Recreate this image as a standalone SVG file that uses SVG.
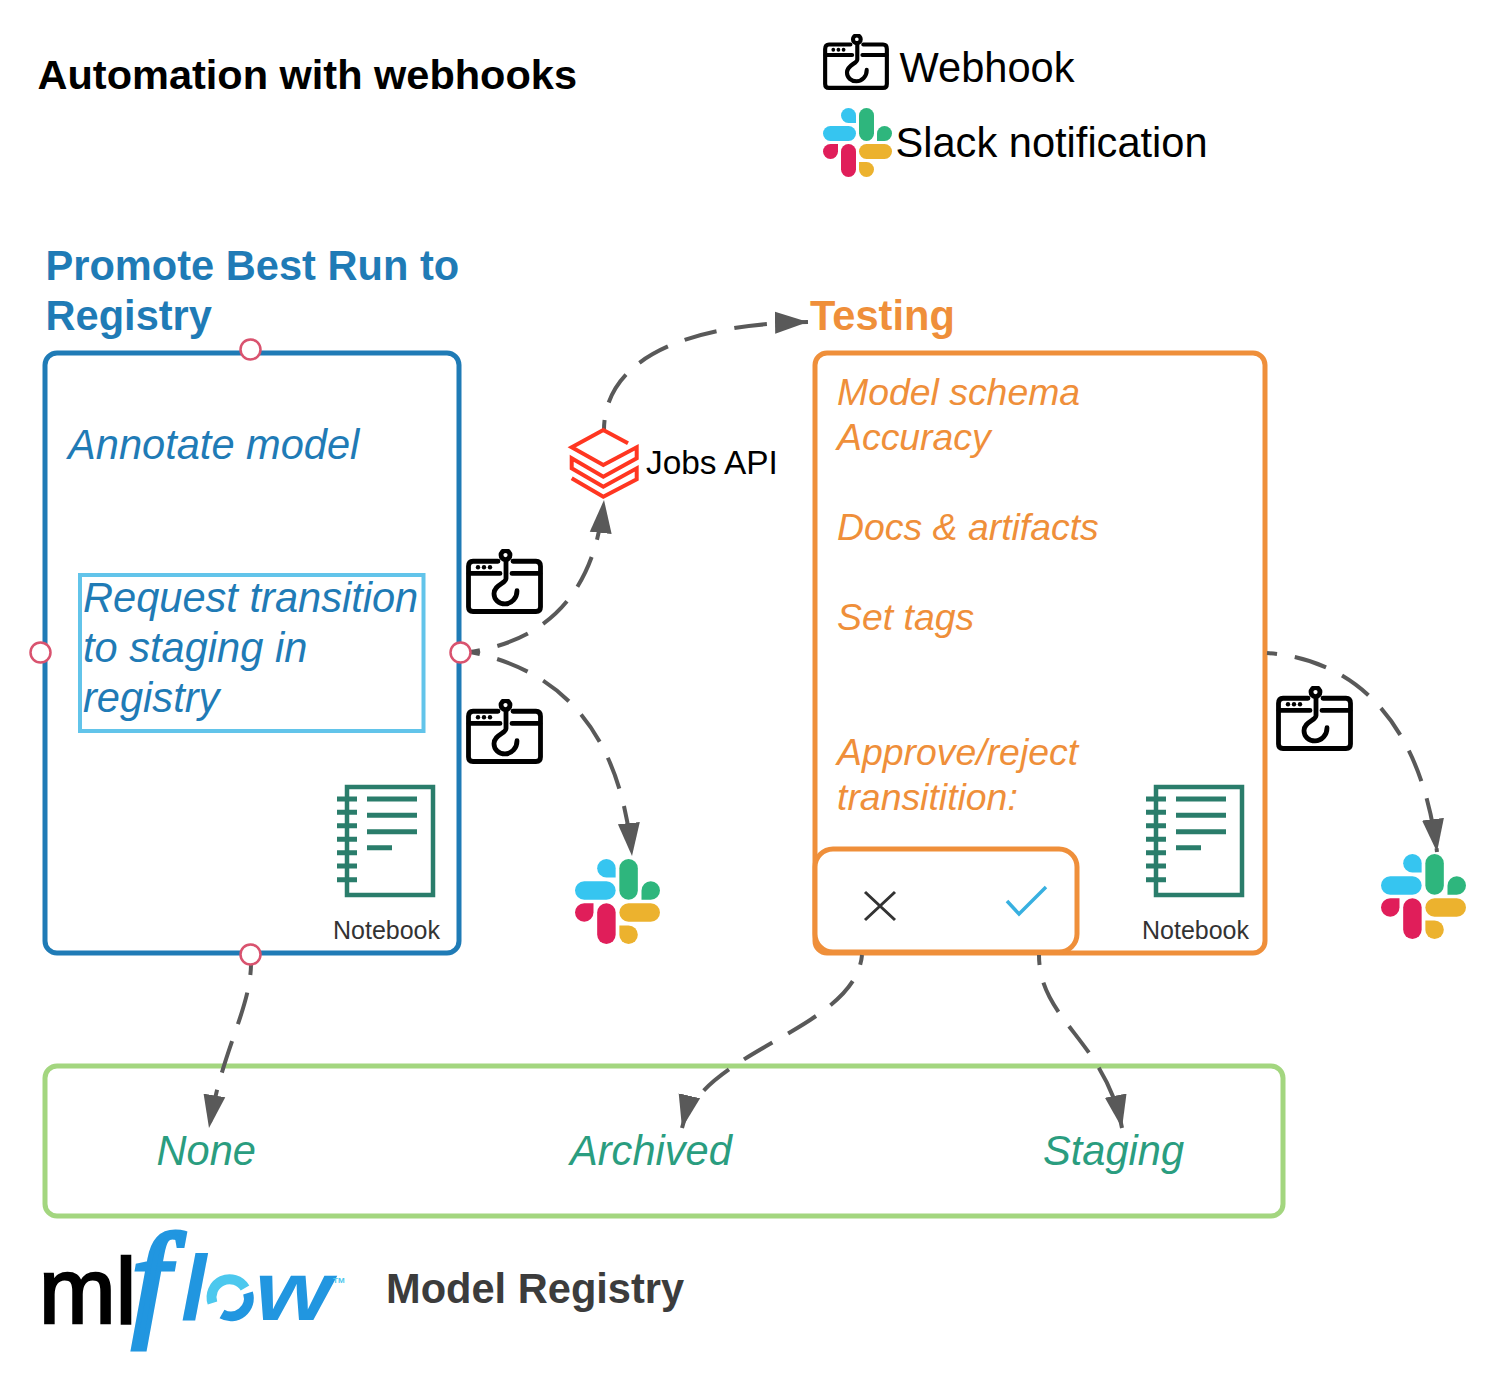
<svg xmlns="http://www.w3.org/2000/svg" width="1496" height="1380" viewBox="0 0 1496 1380">
<style>
text{font-family:"Liberation Sans",Arial,sans-serif}
.b{font-weight:bold}
.i{font-style:italic}
.bl{fill:#1F7BB6}
.or{fill:#EF8F3A}
.gr{fill:#2A9D7F}
.conn{fill:none;stroke:#595959;stroke-width:4;stroke-dasharray:33 18;stroke-dashoffset:23;marker-end:url(#arrow)}
.port{fill:#fff;stroke:#D9536F;stroke-width:2.500}
.box{fill:#fff;stroke-width:5}
.nb{font-size:25px;fill:#333}
</style>
<defs>
<marker id="arrow" markerUnits="userSpaceOnUse" markerWidth="34" markerHeight="24" refX="33" refY="12" orient="auto"><path d="M0 1L33 12L0 23Z" fill="#595959"/></marker>
<symbol id="hook" viewBox="0 0 77 64" preserveAspectRatio="none">
<g fill="none" stroke="#000" stroke-width="4.800" stroke-linecap="round" stroke-linejoin="round">
<path d="M32 12H7Q2.500 12 2.500 17V57Q2.500 61.500 7 61.500H70Q74.500 61.500 74.500 57V17Q74.500 12 70 12H47"/>
<path d="M3 24H34M46 24H74"/>
<circle cx="39.500" cy="6" r="4.500"/>
<path d="M40 11V29C40 34 28 35 28 44C28 50 33 54 39 54C46 54 51 48 51 41"/>
</g>
<g fill="#000"><circle cx="12" cy="18" r="2.200"/><circle cx="18" cy="18" r="2.200"/><circle cx="24" cy="18" r="2.200"/></g>
</symbol>
<symbol id="slack" viewBox="0 0 69 69">
<rect x="0" y="18" width="33" height="15" rx="7.500" fill="#36C5F0"/><path d="M33 15H25.500A7.500 7.500 0 1 1 33 7.500Z" fill="#36C5F0"/>
<rect x="36" y="0" width="15" height="33" rx="7.500" fill="#2EB67D"/><path d="M54 33H61.500A7.500 7.500 0 1 0 54 25.500Z" fill="#2EB67D"/>
<rect x="18" y="36" width="15" height="33" rx="7.500" fill="#E01E5A"/><path d="M15 36V43.500A7.500 7.500 0 1 1 7.500 36Z" fill="#E01E5A"/>
<rect x="36" y="36" width="33" height="15" rx="7.500" fill="#ECB22E"/><path d="M36 54H43.500A7.500 7.500 0 1 1 36 61.500Z" fill="#ECB22E"/>
</symbol>
<symbol id="notebook" viewBox="0 0 100 114">
<g fill="none" stroke="#2A7D6B">
<rect x="11" y="3" width="86" height="108" stroke-width="4.500"/>
<path stroke-width="5" d="M1 15H21M1 28.300H21M1 41.700H21M1 55.300H21M1 68.700H21M1 82H21M1 95.700H21M31 15H81M31 31.300H81M31 47.700H81M31 63.700H56"/>
</g>
</symbol>
</defs>
<rect width="1496" height="1380" fill="#fff"/>

<g id="title"><text x="37.500" y="89" class="b" font-size="41.500">Automation with webhooks</text></g>
<g id="legend-webhook"><use href="#hook" x="823" y="34" width="66" height="56"/><text x="899.500" y="82" font-size="41.600">Webhook</text></g>
<g id="legend-slack"><use href="#slack" x="823" y="108" width="69" height="69"/><text x="895.500" y="157" font-size="41.600">Slack notification</text></g>

<g id="promote">
<text x="45.500" y="279.500" class="b bl" font-size="41.600">Promote Best Run to</text>
<text x="45.500" y="329.500" class="b bl" font-size="41.600">Registry</text>
<rect class="box" x="45" y="353" width="414" height="600" rx="12" stroke="#1F7BB6"/>
<text x="68" y="458.500" class="i bl" font-size="41.600">Annotate model</text>
</g>
<g id="request">
<rect x="80" y="575" width="343.500" height="156" fill="#fff" stroke="#62C4EA" stroke-width="4"/>
<text x="83" y="612" class="i bl" font-size="41.600">Request transition</text>
<text x="83" y="662" class="i bl" font-size="41.600">to staging in</text>
<text x="83" y="712" class="i bl" font-size="41.600">registry</text>
</g>
<g id="notebook-1"><use href="#notebook" x="336" y="784" width="100" height="114"/><text x="333" y="939" class="nb">Notebook</text></g>

<g id="testing">
<text x="810" y="329.500" class="b or" font-size="41.600">Testing</text>
<rect class="box" x="815" y="353" width="450" height="600" rx="12" stroke="#EF8F3A"/>
<g class="i or" font-size="37.400">
<text x="837" y="405">Model schema</text>
<text x="837" y="450">Accuracy</text>
<text x="837" y="540">Docs &amp; artifacts</text>
<text x="837" y="630">Set tags</text>
<text x="837" y="765">Approve/reject</text>
<text x="837" y="810">transitition:</text>
</g>
</g>
<g id="notebook-2"><use href="#notebook" x="1145" y="784" width="100" height="114"/><text x="1142" y="939" class="nb">Notebook</text></g>
<g id="decision">
<rect class="box" x="815" y="849" width="262" height="103" rx="18" stroke="#EF8F3A"/>
<path d="M865 892L895 920M895 892L865 920" stroke="#333" stroke-width="3" fill="none"/>
<path d="M1007 901L1019 914L1046 887" stroke="#38B0E0" stroke-width="3.500" fill="none"/>
</g>

<g id="registry">
<rect x="45" y="1066" width="1238" height="150" rx="12" fill="#fff" stroke="#A3D67F" stroke-width="5"/>
<g class="i gr" font-size="41.600">
<text x="156.500" y="1164.500">None</text>
<text x="570" y="1164.500">Archived</text>
<text x="1043" y="1164.500">Staging</text>
</g>
</g>

<g id="connectors">
<path class="conn" d="M604 430C604 375 655 325 808 322"/>
<path class="conn" d="M470 652C550 640 595 590 604 500"/>
<path class="conn" d="M470 652C560 670 620 730 632 856"/>
<path class="conn" d="M1267 653C1362 660 1422 730 1437 852"/>
<path class="conn" d="M251 965C250 1010 222 1050 209 1128"/>
<path class="conn" d="M862 955C855 1030 700 1050 682 1128"/>
<path class="conn" d="M1039 955C1039 1020 1105 1040 1122 1128"/>
</g>

<g id="ports">
<circle class="port" cx="250.500" cy="349.500" r="10"/>
<circle class="port" cx="40.500" cy="652.500" r="10"/>
<circle class="port" cx="460.500" cy="652.500" r="10"/>
<circle class="port" cx="250.500" cy="954.500" r="10"/>
</g>

<g id="webhook-1"><use href="#hook" x="466" y="549" width="77" height="65"/></g>
<g id="webhook-2"><use href="#hook" x="466" y="699" width="77" height="65"/></g>
<g id="webhook-3"><use href="#hook" x="1276" y="686" width="77" height="65"/></g>
<g id="slack-1"><use href="#slack" x="575" y="859" width="85" height="85"/></g>
<g id="slack-2"><use href="#slack" x="1381" y="854" width="85" height="85"/></g>

<g id="jobs-api">
<path d="M628 443.300L603.300 430L571.700 447.300L603.300 465L636.700 447.300V458.300L603.300 476.700L571.700 458.300V468.300L603.300 486.700L636.700 468.300V479.300L603.300 496.700L571.700 478.300" fill="none" stroke="#FF3621" stroke-width="4"/>
<text x="646" y="474" font-size="33.400">Jobs API</text>
</g>

<g id="mlflow">
<text x="39" y="1323" font-size="92" fill="#000" stroke="#000" stroke-width="2.500">ml</text>
<text transform="translate(132 1322) scale(1.05 1)" font-size="127" font-style="italic" fill="#2196E0" stroke="#2196E0" stroke-width="5" style="font-family:'Liberation Serif',serif">f</text>
<text x="181" y="1320" font-size="92" class="b i" fill="#2196E0">l</text>
<path d="M212.500 1303A18 18 0 0 1 245 1288" fill="none" stroke="#4CC8EE" stroke-width="10"/>
<path d="M248 1293A18 18 0 0 1 222 1314" fill="none" stroke="#2196E0" stroke-width="10"/>
<text x="255" y="1320" font-size="84" class="b i" fill="#2196E0" textLength="77" lengthAdjust="spacingAndGlyphs">w</text>
<text x="333" y="1283" font-size="8" font-weight="bold" fill="#4CC8EE">TM</text>
</g>
<g id="model-registry"><text x="386" y="1302.500" class="b" font-size="41.600" fill="#3C3C3C">Model Registry</text></g>
</svg>
